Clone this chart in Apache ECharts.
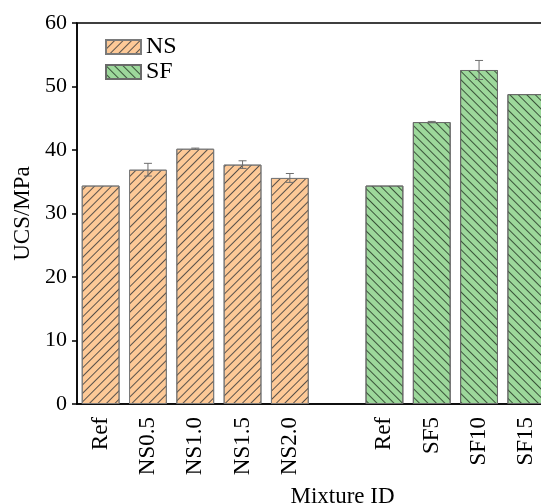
<!DOCTYPE html>
<html>
<head>
<meta charset="utf-8">
<script src="https://cdn.jsdelivr.net/npm/echarts@6/dist/echarts.min.js"></script>
<style>html,body{margin:0;padding:0;background:#fff}#c{width:541px;height:504px}</style>
</head>
<body>
<div id="c"></div>
<script>
var categories = ['Ref', 'NS0.5', 'NS1.0', 'NS1.5', 'NS2.0', '', 'Ref', 'SF5', 'SF10', 'SF15'];
var nsValues = [34.4, 36.9, 40.2, 37.7, 35.6, '-', '-', '-', '-', '-'];
var nsErrors = [0, 1.0, 0.1, 0.6, 0.7, 0, 0, 0, 0, 0];
var sfValues = ['-', '-', '-', '-', '-', '-', 34.4, 44.4, 52.6, 48.8];
var sfErrors = [0, 0, 0, 0, 0, 0, 0, 0.1, 1.5, 0];
var yTicks = [0, 10, 20, 30, 40, 50, 60];

var FONT = 'Liberation Serif';
function errData(vals, errs) {
  var out = [];
  for (var i = 0; i < vals.length; i++) {
    if (vals[i] !== '-' && errs[i] > 0) out.push([i, vals[i], errs[i]]);
  }
  return out;
}
function renderErr(params, api) {
  var x = api.value(0), y = api.value(1), e = api.value(2);
  var hi = api.coord([x, y + e]);
  var lo = api.coord([x, y - e]);
  var hw = 4;
  var st = { stroke: '#6e6e6e', lineWidth: 1 };
  return {
    type: 'group',
    children: [
      { type: 'line', shape: { x1: hi[0], y1: hi[1], x2: lo[0], y2: lo[1] }, style: st },
      { type: 'line', shape: { x1: hi[0] - hw, y1: hi[1], x2: hi[0] + hw, y2: hi[1] }, style: st },
      { type: 'line', shape: { x1: lo[0] - hw, y1: lo[1], x2: lo[0] + hw, y2: lo[1] }, style: st }
    ]
  };
}

var chart = echarts.init(document.getElementById('c'), null, { renderer: 'canvas' });
chart.setOption({
  animation: false,
  textStyle: { fontFamily: FONT },
  grid: {
    left: 77, top: 23, width: 473, height: 381,
    outerBoundsMode: 'none', containLabel: false,
    show: true, borderColor: '#000', borderWidth: 1.5, backgroundColor: 'transparent'
  },
  legend: {
    orient: 'vertical', left: 100, top: 30, itemWidth: 35, itemHeight: 14, itemGap: 1,
    icon: 'rect',
    textStyle: { fontFamily: FONT, fontSize: 24, color: '#000' },
    data: ['NS', 'SF']
  },
  xAxis: {
    type: 'category', data: categories,
    axisLine: { lineStyle: { color: '#000', width: 1.5 } },
    axisTick: { show: false },
    axisLabel: { rotate: 90, fontFamily: FONT, fontSize: 23, color: '#000', margin: 13, interval: 0 },
    name: 'Mixture ID', nameLocation: 'middle', nameGap: 81,
    nameTextStyle: { fontFamily: FONT, fontSize: 23, color: '#000', padding: [0, 0, 0, 58] }
  },
  yAxis: {
    type: 'value', min: yTicks[0], max: yTicks[yTicks.length - 1], interval: 10,
    axisLine: { show: true, lineStyle: { color: '#000', width: 1.5 } },
    axisTick: { show: true, inside: false, length: 5, lineStyle: { color: '#000', width: 1.5 } },
    splitLine: { show: false },
    axisLabel: { fontFamily: FONT, fontSize: 22, color: '#000', margin: 10 },
    name: 'UCS/MPa', nameLocation: 'middle', nameGap: 38, nameRotate: 90,
    nameTextStyle: { fontFamily: FONT, fontSize: 23, color: '#000' }
  },
  series: [
    {
      name: 'NS', type: 'bar', data: nsValues, barGap: '-100%', barCategoryGap: '20%',
      itemStyle: {
        color: '#FDC997', borderColor: '#7a7a7a', borderWidth: 1,
        decal: { symbol: 'rect', symbolSize: 1, dashArrayX: [1, 0], dashArrayY: [1, 5], rotation: -Math.PI / 4, color: 'rgba(60,60,60,0.85)' }
      }
    },
    {
      name: 'SF', type: 'bar', data: sfValues, barGap: '-100%', barCategoryGap: '20%',
      itemStyle: {
        color: '#9DD89B', borderColor: '#6a6a6a', borderWidth: 1,
        decal: { symbol: 'rect', symbolSize: 1, dashArrayX: [1, 0], dashArrayY: [1, 5], rotation: Math.PI / 4, color: 'rgba(40,60,40,0.85)' }
      }
    },
    { type: 'custom', renderItem: renderErr, data: errData(nsValues, nsErrors), z: 5, silent: true },
    { type: 'custom', renderItem: renderErr, data: errData(sfValues, sfErrors), z: 5, silent: true }
  ]
});
</script>
</body>
</html>
